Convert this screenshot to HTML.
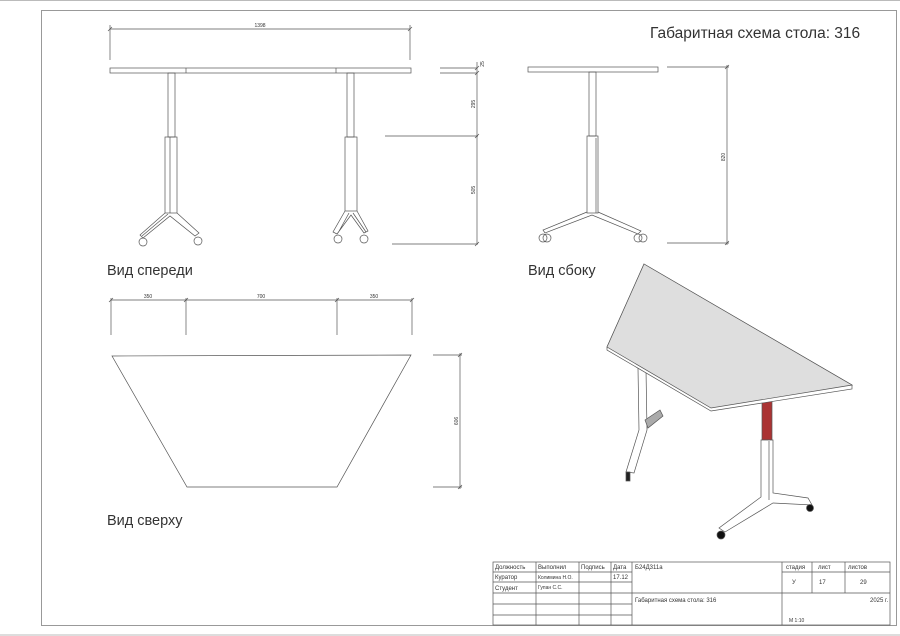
<!DOCTYPE html>
<html><head><meta charset="utf-8"><style>
html,body{margin:0;padding:0;background:#fff;}
svg{display:block;}
text{font-family:"Liberation Sans","DejaVu Sans",sans-serif;fill:#333;}
</style></head><body>
<svg width="900" height="636" viewBox="0 0 900 636" xmlns="http://www.w3.org/2000/svg">
<rect x="0" y="0" width="900" height="636" fill="#fff"/>
<line x1="0" y1="0.5" x2="900" y2="0.5" stroke="#bbb"/>
<line x1="0" y1="635" x2="900" y2="635" stroke="#bbb"/>
<rect x="41.5" y="10.5" width="855" height="615" fill="none" stroke="#999" stroke-width="1"/>

<text x="650" y="38" font-size="15.5" fill="#333">Габаритная схема стола: 316</text>

<g stroke="#555" stroke-width="0.7" fill="none">
<line x1="110" y1="29" x2="410" y2="29"/>
<line x1="110" y1="25" x2="110" y2="60"/><line x1="410" y1="25" x2="410" y2="60"/>
<path d="M108,31 l4,-4 M408,31 l4,-4"/>
<rect x="110" y="68" width="301" height="5"/>
<line x1="186" y1="68" x2="186" y2="73"/><line x1="336" y1="68" x2="336" y2="73"/>
<rect x="168" y="73" width="7" height="64"/>
<rect x="165" y="137" width="12" height="76"/>
<line x1="170" y1="137" x2="170" y2="213"/>
<path d="M165,213 L140,235 L143,238 L170,216 L195,236 L199,233 L177,213 M168,214 L142,236"/>
<circle cx="143" cy="242" r="4"/><circle cx="198" cy="241" r="4"/>
<rect x="347" y="73" width="7" height="64"/>
<rect x="345" y="137" width="12" height="74"/>
<path d="M345,211 L333,232 L337,234 L351,215 L364,233 L368,231 L357,211 M349,213 L338,233 M353,213 L366,232"/>
<circle cx="338" cy="239" r="4"/><circle cx="364" cy="239" r="4"/>
<line x1="440" y1="68" x2="477" y2="68"/><line x1="440" y1="73" x2="477" y2="73"/>
<line x1="385" y1="136" x2="478" y2="136"/>
<line x1="392" y1="244" x2="478" y2="244"/>
<line x1="477" y1="62" x2="477" y2="244"/>
<path d="M475,70 l4,-4 M475,75 l4,-4 M475,138 l4,-4 M475,246 l4,-4"/>

<rect x="528" y="67" width="130" height="5"/>
<rect x="589" y="72" width="7" height="64"/>
<rect x="587" y="136" width="11" height="77"/>
<line x1="596" y1="138" x2="596" y2="213"/>
<path d="M587,212 L543,230 L545,233 L592,215 L638,234 L641,231 L598,212"/>
<circle cx="543" cy="238" r="4"/><circle cx="547" cy="238" r="4"/>
<circle cx="638" cy="238" r="4"/><circle cx="643" cy="238" r="4"/>
<line x1="667" y1="67" x2="729" y2="67"/>
<line x1="667" y1="243" x2="729" y2="243"/>
<line x1="727" y1="65" x2="727" y2="245"/>
<path d="M725,69 l4,-4 M725,245 l4,-4"/>

<line x1="111" y1="300" x2="412" y2="300"/>
<line x1="111" y1="298" x2="111" y2="335"/><line x1="186" y1="298" x2="186" y2="335"/>
<line x1="337" y1="298" x2="337" y2="335"/><line x1="412" y1="298" x2="412" y2="335"/>
<path d="M109,302 l4,-4 M184,302 l4,-4 M335,302 l4,-4 M410,302 l4,-4"/>
<polygon points="112,356 411,355 337,487 187,487"/>
<line x1="433" y1="355" x2="462" y2="355"/><line x1="433" y1="487" x2="462" y2="487"/>
<line x1="460" y1="353" x2="460" y2="489"/>
<path d="M458,357 l4,-4 M458,489 l4,-4"/>
</g>

<g font-size="5" fill="#444">
<text x="260" y="27" text-anchor="middle">1398</text>
<text x="148" y="298" text-anchor="middle">350</text>
<text x="261" y="298" text-anchor="middle">700</text>
<text x="374" y="298" text-anchor="middle">350</text>
<text transform="translate(484,64) rotate(-90)" text-anchor="middle">25</text>
<text transform="translate(475,104) rotate(-90)" text-anchor="middle">295</text>
<text transform="translate(475,190) rotate(-90)" text-anchor="middle">505</text>
<text transform="translate(725,157) rotate(-90)" text-anchor="middle">820</text>
<text transform="translate(458,421) rotate(-90)" text-anchor="middle">606</text>
</g>

<text x="107" y="275" font-size="14.5">Вид спереди</text>
<text x="528" y="275" font-size="14.5">Вид сбоку</text>
<text x="107" y="525" font-size="14.5">Вид сверху</text>

<g stroke="#555" stroke-width="0.7">
<path d="M638,368 L646,370 L647,430 L634,473 L626,472 L639,430 Z" fill="#fff"/>
<path d="M645,420 L660,410 L663,416 L648,428 Z" fill="#aaa"/>
<rect x="626" y="472" width="4" height="9" fill="#222"/>
<path d="M762,400 L772,400 L772,440 L762,440 Z" fill="#a33"/>
<path d="M761,440 L773,440 L773,493 L808,498 L812,505 L773,503 L725,532 L719,528 L761,497 Z" fill="#fff"/>
<line x1="769" y1="441" x2="769" y2="500"/>
<circle cx="721" cy="535" r="4" fill="#111"/>
<circle cx="810" cy="508" r="3.5" fill="#111"/>
<polygon points="644,264 852,385 852,389 711,411 607,350 607,347" fill="#fff"/>
<polygon points="644,264 852,385 711,408 607,347" fill="#dedede"/>
</g>

<g stroke="#555" stroke-width="0.7" fill="none">
<rect x="493" y="562" width="397" height="63"/>
<line x1="493" y1="572" x2="632" y2="572"/>
<line x1="493" y1="582" x2="632" y2="582"/>
<line x1="493" y1="593" x2="890" y2="593"/>
<line x1="493" y1="604" x2="632" y2="604"/>
<line x1="493" y1="615" x2="632" y2="615"/>
<line x1="782" y1="572" x2="890" y2="572"/>
<line x1="536" y1="562" x2="536" y2="625"/>
<line x1="579" y1="562" x2="579" y2="625"/>
<line x1="611" y1="562" x2="611" y2="625"/>
<line x1="632" y1="562" x2="632" y2="625"/>
<line x1="782" y1="562" x2="782" y2="625"/>
<line x1="812" y1="562" x2="812" y2="593"/>
<line x1="845" y1="562" x2="845" y2="593"/>
</g>
<g font-size="6" fill="#444">
<text x="495" y="569">Должность</text>
<text x="538" y="569">Выполнил</text>
<text x="581" y="569">Подпись</text>
<text x="613" y="569">Дата</text>
<text x="635" y="569">Б24Д311а</text>
<text x="495" y="579">Куратор</text>
<text x="538" y="579" font-size="5">Колимина Н.О.</text>
<text x="613" y="579">17.12</text>
<text x="495" y="590">Студент</text>
<text x="538" y="589" font-size="5">Гупан С.С.</text>
<text x="786" y="569">стадия</text>
<text x="818" y="569">лист</text>
<text x="848" y="569">листов</text>
<text x="792" y="584">У</text>
<text x="819" y="584">17</text>
<text x="860" y="584">29</text>
<text x="635" y="602">Габаритная схема стола: 316</text>
<text x="870" y="602">2025 г.</text>
<text x="789" y="622" font-size="5">М 1:10</text>
</g>
</svg>
</body></html>
